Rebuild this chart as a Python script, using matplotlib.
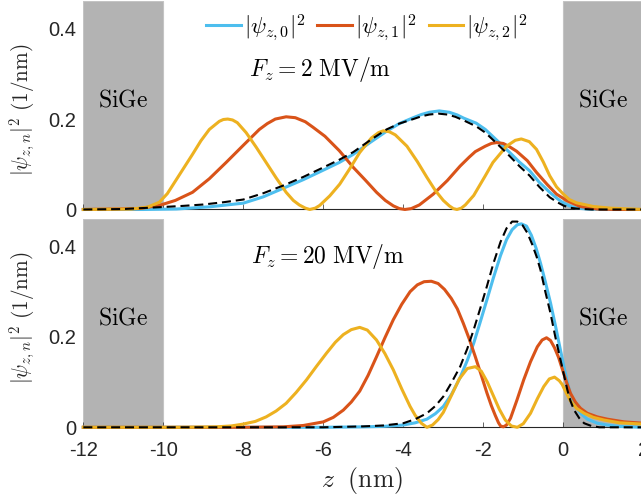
import matplotlib
matplotlib.use("Agg")
import matplotlib.pyplot as plt

plt.rcParams['mathtext.fontset'] = 'cm'
plt.rcParams['font.family'] = ['Liberation Sans', 'DejaVu Sans']
plt.rcParams['lines.scale_dashes'] = False

# colours (MATLAB defaults)
c0, c1, c2 = '#4DBEEE', '#D95319', '#EDB120'
gray = '#B3B3B3'
txt = '#262626'

# ---- F_z = 2 MV/m ----
z2_n0 = [-12, -10.5, -9.67, -8.83, -8.0, -7.5, -7.0, -6.5, -6.0, -5.6, -5.25, -4.8, -4.42, -4.1, -3.75,
         -3.55, -3.35, -3.1, -2.85, -2.65, -2.49, -2.18, -1.95, -1.65, -1.34, -1.1, -0.84, -0.6, -0.34, -0.15,
         0, 0.15, 0.33, 0.6, 1.0, 2]
p2_n0 = [0, 0, 0.001, 0.006, 0.014, 0.028, 0.047, 0.066, 0.087, 0.104, 0.122, 0.15, 0.173, 0.19, 0.203,
         0.21, 0.215, 0.218, 0.215, 0.209, 0.202, 0.191, 0.177, 0.152, 0.126, 0.105, 0.0855, 0.06, 0.038, 0.024,
         0.0147, 0.008, 0.003, 0.001, 0, 0]

z2_n1 = [-12, -10.6, -10.1, -9.7, -9.27, -8.85, -8.43, -8.0, -7.6, -7.4, -7.2, -6.93, -6.7, -6.45, -6.26, -5.96,
         -5.6, -5.25, -4.95, -4.67, -4.45, -4.25, -4.1, -3.96, -3.8, -3.6, -3.25, -2.9, -2.58, -2.35, -2.2, -1.95,
         -1.8, -1.67, -1.5, -1.35, -1.17, -0.9, -0.67, -0.4, -0.17, 0.08, 0.42, 0.84, 1.3, 2]
p2_n1 = [0, 0.002, 0.009, 0.02, 0.038, 0.068, 0.104, 0.142, 0.177, 0.19, 0.2, 0.205, 0.203, 0.194, 0.182, 0.162,
         0.13, 0.093, 0.065, 0.038, 0.02, 0.008, 0.002, 0.0, 0.002, 0.01, 0.034, 0.064, 0.096, 0.116, 0.128, 0.14,
         0.146, 0.148, 0.146, 0.139, 0.129, 0.108, 0.082, 0.055, 0.034, 0.02, 0.0066, 0.001, 0, 0]

z2_n2 = [-12, -10.8, -10.4, -10.1, -9.9, -9.69, -9.48, -9.27, -9.06, -8.85, -8.6, -8.5, -8.39, -8.27, -8.15,
         -7.93, -7.68, -7.43, -7.18, -6.93, -6.75, -6.6, -6.45, -6.34, -6.2, -6.09, -5.84, -5.59, -5.34, -5.09,
         -4.8, -4.62, -4.5, -4.35, -4.2, -3.91, -3.65, -3.41, -3.2, -3.0, -2.85, -2.75, -2.66, -2.55, -2.45,
         -2.24, -1.95, -1.76, -1.42, -1.2, -1.05, -0.85, -0.67, -0.5, -0.34, -0.17, 0, 0.15, 0.33, 0.75, 1.17, 2]
p2_n2 = [0, 0.001, 0.005, 0.016, 0.035, 0.064, 0.093, 0.122, 0.152, 0.177, 0.195, 0.199, 0.2, 0.198, 0.192,
         0.17, 0.138, 0.104, 0.07, 0.038, 0.02, 0.01, 0.003, 0.0, 0.003, 0.009, 0.03, 0.056, 0.09, 0.126,
         0.158, 0.17, 0.174, 0.172, 0.165, 0.14, 0.106, 0.071, 0.042, 0.02, 0.008, 0.002, 0.0, 0.003, 0.01,
         0.031, 0.0746, 0.104, 0.14, 0.153, 0.156, 0.15, 0.133, 0.105, 0.0746, 0.05, 0.034, 0.022, 0.0147, 0.0066,
         0.003, 0]

z2_ap = [-12, -11, -10.1, -9.5, -9.0, -8.5, -8.0, -7.5, -7.0, -6.5, -6.0, -5.6, -5.25, -4.8, -4.42, -4.1, -3.75,
         -3.55, -3.35, -3.12, -2.9, -2.7, -2.49, -2.18, -1.95, -1.65, -1.34, -1.1, -0.84, -0.6, -0.34, -0.15, 0,
         0.15, 0.33, 0.7, 2]
p2_ap = [0, 0.001, 0.005, 0.008, 0.011, 0.016, 0.022, 0.036, 0.053, 0.072, 0.093, 0.11, 0.127, 0.155, 0.177, 0.19,
         0.2, 0.206, 0.21, 0.212, 0.21, 0.205, 0.197, 0.184, 0.17, 0.145, 0.118, 0.096, 0.0746, 0.05, 0.027, 0.016,
         0.0088, 0.004, 0.002, 0, 0]

# ---- F_z = 20 MV/m ----
z20_n0 = [-12, -6, -5, -4.5, -4.0, -3.7, -3.41, -3.2, -3.0, -2.8, -2.58, -2.4, -2.24, -2.08, -1.91, -1.75,
          -1.57, -1.42, -1.28, -1.15, -1.05, -0.92, -0.8, -0.68, -0.57, -0.45, -0.32, -0.2, -0.1, 0.02, 0.1,
          0.18, 0.3, 0.43, 0.6, 0.85, 1.1, 1.4, 2]
p20_n0 = [0, 0, 0.001, 0.002, 0.005, 0.01, 0.018, 0.03, 0.046, 0.072, 0.11, 0.148, 0.186, 0.232, 0.282, 0.33,
          0.38, 0.415, 0.437, 0.448, 0.45, 0.445, 0.425, 0.396, 0.363, 0.322, 0.275, 0.226, 0.183, 0.132, 0.1,
          0.072, 0.048, 0.031, 0.018, 0.009, 0.005, 0.002, 0]

z20_n1 = [-12, -8, -7.0, -6.5, -6.0, -5.75, -5.5, -5.3, -5.09, -4.88, -4.67, -4.46, -4.25, -4.04, -3.83, -3.65,
          -3.48, -3.3, -3.13, -2.97, -2.8, -2.65, -2.5, -2.35, -2.2, -2.05, -1.91, -1.8, -1.7, -1.62, -1.57,
          -1.5, -1.42, -1.32, -1.16, -0.99, -0.82, -0.65, -0.53, -0.42, -0.32, -0.22, -0.12, -0.03, 0.08, 0.18,
          0.3, 0.43, 0.6, 0.85, 1.1, 1.52, 2]
p20_n1 = [0, 0, 0.001, 0.004, 0.012, 0.022, 0.038, 0.056, 0.08, 0.115, 0.156, 0.198, 0.238, 0.272, 0.3, 0.315,
          0.322, 0.323, 0.318, 0.305, 0.285, 0.262, 0.23, 0.195, 0.156, 0.115, 0.076, 0.048, 0.026, 0.01, 0.003,
          0.001, 0.005, 0.02, 0.06, 0.105, 0.145, 0.178, 0.193, 0.198, 0.192, 0.176, 0.155, 0.13, 0.1, 0.075,
          0.056, 0.042, 0.031, 0.023, 0.018, 0.012, 0.009]

z20_n2 = [-12, -9.5, -8.68, -8.3, -8.01, -7.7, -7.43, -7.18, -6.93, -6.68, -6.42, -6.17, -5.92, -5.7, -5.5,
          -5.3, -5.09, -4.9, -4.67, -4.46, -4.25, -4.04, -3.83, -3.7, -3.55, -3.41, -3.27, -3.13, -3.0, -2.8,
          -2.6, -2.4, -2.2, -2.05, -1.9, -1.75, -1.6, -1.45, -1.3, -1.15, -1.0, -0.82, -0.65, -0.49, -0.35,
          -0.22, -0.1, -0.03, 0.08, 0.18, 0.33, 0.52, 0.75, 1.02, 1.4, 2]
p20_n2 = [0, 0, 0.001, 0.003, 0.007, 0.013, 0.023, 0.036, 0.053, 0.077, 0.105, 0.135, 0.164, 0.188, 0.205,
          0.216, 0.221, 0.215, 0.193, 0.163, 0.127, 0.085, 0.046, 0.026, 0.009, 0.0, 0.005, 0.017, 0.033, 0.07,
          0.107, 0.13, 0.134, 0.124, 0.1, 0.07, 0.04, 0.016, 0.003, 0.0, 0.008, 0.031, 0.063, 0.09, 0.107,
          0.111, 0.103, 0.095, 0.075, 0.058, 0.042, 0.031, 0.022, 0.016, 0.01, 0.007]

z20_ap = [-12, -6, -5, -4.5, -4.0, -3.7, -3.41, -3.2, -3.0, -2.8, -2.58, -2.4, -2.24, -2.08, -1.91, -1.75,
          -1.57, -1.42, -1.28, -1.15, -1.02, -0.9, -0.78, -0.67, -0.57, -0.45, -0.32, -0.2, -0.07, 0.02, 0.1,
          0.18, 0.27, 0.4, 0.52, 0.7, 0.9, 2]
p20_ap = [0, 0, 0.002, 0.004, 0.009, 0.018, 0.031, 0.047, 0.068, 0.098, 0.134, 0.174, 0.216, 0.262, 0.312,
          0.362, 0.41, 0.44, 0.455, 0.455, 0.447, 0.43, 0.405, 0.378, 0.348, 0.3, 0.252, 0.2, 0.149, 0.114,
          0.083, 0.058, 0.038, 0.02, 0.009, 0.003, 0, 0]

panels = [
    (z2_n0, p2_n0, z2_n1, p2_n1, z2_n2, p2_n2, z2_ap, p2_ap),
    (z20_n0, p20_n0, z20_n1, p20_n1, z20_n2, p20_n2, z20_ap, p20_ap),
]
field_labels = [r'$F_z = 2\ \mathrm{MV/m}$', r'$F_z = 20\ \mathrm{MV/m}$']

xticks = [-12, -10, -8, -6, -4, -2, 0, 2]
xticklabels = ['-12', '-10', '-8', '-6', '-4', '-2', '0', '2']
yticks = [0, 0.2, 0.4]
yticklabels = ['0', '0.2', '0.4']

fig = plt.figure(figsize=(6.41, 4.99), dpi=100)
ax1 = fig.add_axes([0.13, 0.5802, 0.8736, 0.4168])
ax2 = fig.add_axes([0.13, 0.1437, 0.8736, 0.4168])
lw = 2.2

for ax, (za, pa, zb, pb, zc, pc, zd, pd) in zip([ax1, ax2], panels):
    ax.axvspan(-12, -10, color=gray, ec='#c4c4c4', lw=0.8, zorder=0)
    ax.axvspan(0, 2, color=gray, ec='#c4c4c4', lw=0.8, zorder=0)
    ax.plot(za, pa, color=c0, lw=lw, label=r'$|\psi_{z,0}|^2$', clip_on=False, zorder=2)
    ax.plot(zb, pb, color=c1, lw=lw, label=r'$|\psi_{z,1}|^2$', clip_on=False, zorder=2)
    ax.plot(zc, pc, color=c2, lw=lw, label=r'$|\psi_{z,2}|^2$', clip_on=False, zorder=2)
    ax.plot(zd, pd, color='black', lw=1.5, dashes=(6.5, 3.5), clip_on=False, zorder=3)
    ax.set_xlim(-12, 2)
    ax.set_ylim(0, 0.46)
    for s in ['top', 'right', 'left']:
        ax.spines[s].set_visible(False)
    ax.spines['bottom'].set_color(txt)
    ax.spines['bottom'].set_linewidth(0.8)
    ax.spines['bottom'].set_zorder(1.5)
    ax.set_xticks(xticks)
    ax.set_yticks(yticks)
    ax.set_yticklabels(yticklabels)
    ax.tick_params(axis='x', direction='in', length=3.6, width=0.5, color=txt, labelcolor=txt,
                   labelsize=14.5, pad=10)
    ax.tick_params(axis='y', length=0, labelcolor=txt, labelsize=14.5, pad=5)
    ax.text(-11, 0.24, r'$\mathrm{SiGe}$', ha='center', va='center', fontsize=17)
    ax.text(1, 0.24, r'$\mathrm{SiGe}$', ha='center', va='center', fontsize=17)

ax1.set_xticklabels([])
ax2.set_xticklabels(xticklabels)
ax1.text(-7.85, 0.31, field_labels[0], ha='left', va='center', fontsize=17)
ax2.text(-7.8, 0.377, field_labels[1], ha='left', va='center', fontsize=17)

ax1.legend(loc='center', bbox_to_anchor=(0.507, 0.875), ncol=3, frameon=False, fontsize=16.5,
           handlelength=1.5, handletextpad=0.15, columnspacing=0.5)

ylab = r'$|\psi_{z,n}|^2\ (1/\mathrm{nm})$'
fig.text(22.5 / 641, 1 - 110 / 499, ylab, rotation=90, ha='center', va='center', fontsize=15.3, color=txt)
fig.text(22.5 / 641, 1 - 318 / 499, ylab, rotation=90, ha='center', va='center', fontsize=15.3, color=txt)
fig.text(362 / 641, 1 - 480 / 499, r'$z\ \ (\mathrm{nm})$', ha='center', va='center', fontsize=18.5, color=txt)

fig.savefig('out.png', dpi=100)
